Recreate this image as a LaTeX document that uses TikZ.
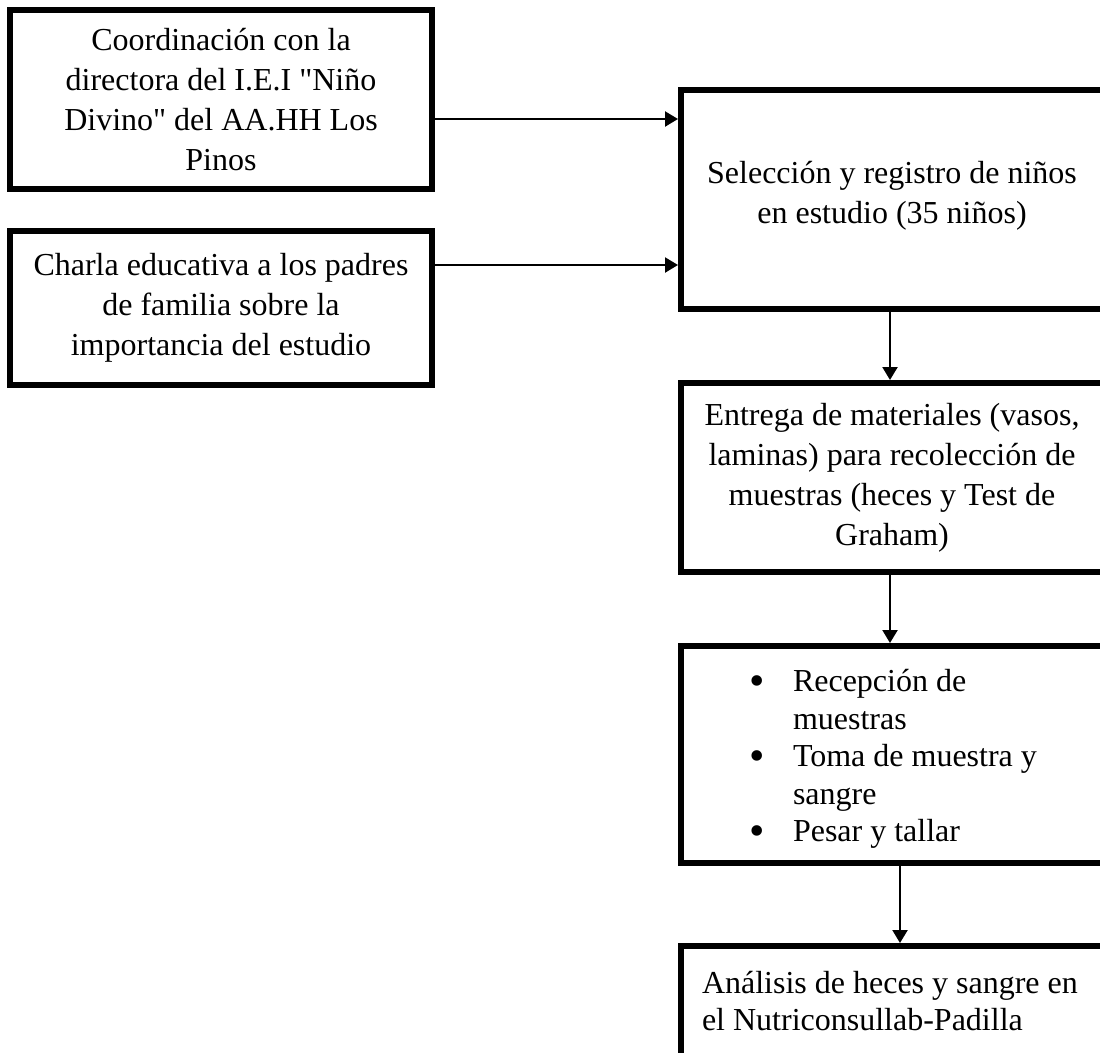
\documentclass[tikz,border=0pt]{standalone}
\usepackage{fontspec}
\setmainfont{Liberation Serif}
\newfontfamily\plainfont{Liberation Serif}
\usetikzlibrary{arrows.meta}

\newcommand\dq{{\plainfont\char34}}
\newcommand\bul{\makebox[51pt][l]{\hspace*{7pt}\raisebox{-4pt}{\fontsize{44}{40}\selectfont\textbullet}}}
\newcommand\bulind{\hspace*{51pt}}

\begin{document}
\begin{tikzpicture}[x=1pt, y=-1pt,
  pbox/.style={draw, line width=6pt, minimum width=422pt, text width=400pt, align=flush center, inner sep=0pt, font=\fontsize{32}{40}\selectfont},
  arr/.style={line width=2.2pt, -{Triangle[length=13pt,width=15pt]}}]
    \useasboundingbox (0,0) rectangle (1100,1052);
    \clip (0,0) rectangle (1100,1052);

    \node[pbox, minimum height=179pt] (coord) at (221,99.5) {Coordinación con la\\ directora del I.E.I \dq Niño\\ Divino\dq{} del AA.HH Los\\ Pinos};
    \node[pbox, minimum height=154pt] (charla) at (221,308) {Charla educativa a los padres\\ de familia sobre la\\ importancia del estudio};
    \node[pbox, minimum height=219pt] (sel) at (892,199.5) {Selección y registro de niños\\ en estudio (35 niños)\\[-26pt]\mbox{}};
    \node[pbox, minimum height=189pt] (entrega) at (892,477.5) {Entrega de materiales (vasos,\\ laminas) para recolección de\\ muestras (heces y Test de\\ Graham)};
    \node[pbox, minimum height=217pt, text width=300pt, align=flush left, font=\fontsize{32}{37.5}\selectfont] (recep) at (892,754.5) {\bul Recepción de\\ \bulind muestras\\ \bul Toma de muestra y\\ \bulind sangre\\ \bul Pesar y tallar\\[-40pt]\mbox{}};
    \node[pbox, minimum height=110pt, text width=380pt, align=flush left, font=\fontsize{32}{37}\selectfont] (anal) at (892,1001) {Análisis de heces y sangre en\\ el Nutriconsullab-Padilla};

    \coordinate (ya) at (0,119);
    \coordinate (yb) at (0,265);
    \draw[arr] (coord.east |- ya) -- (sel.west |- ya);
    \draw[arr] (charla.east |- yb) -- (sel.west |- yb);
    \draw[arr] ([xshift=-2pt]sel.south) -- ([xshift=-2pt]entrega.north);
    \draw[arr] ([xshift=-2pt]entrega.south) -- ([xshift=-2pt]recep.north);
    \draw[arr] ([xshift=8pt]recep.south) -- ([xshift=8pt]anal.north);
\end{tikzpicture}
\end{document}
